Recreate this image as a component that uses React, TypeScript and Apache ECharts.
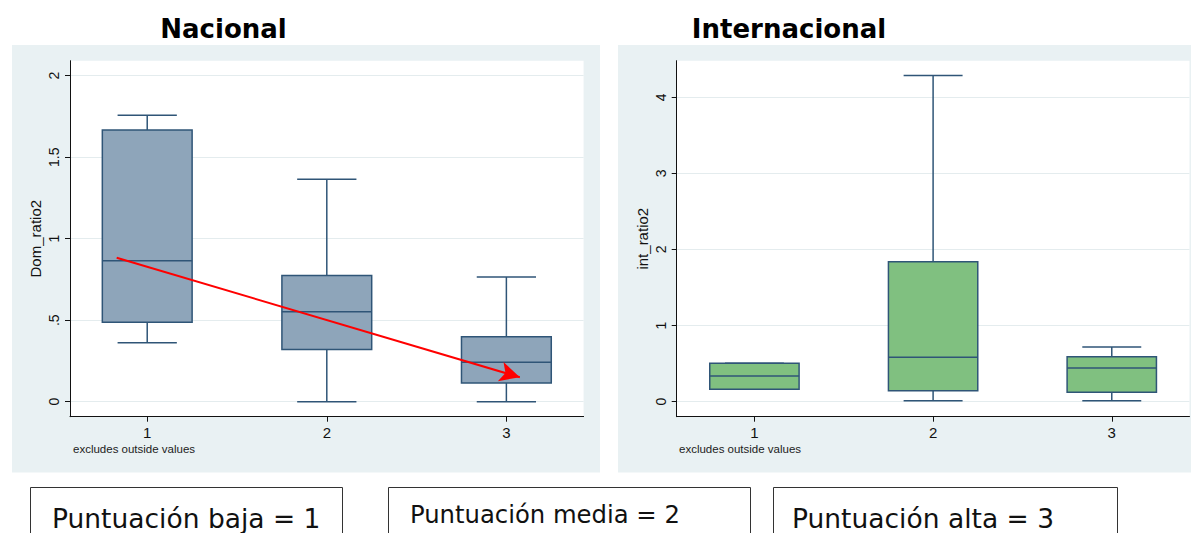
import React, { useEffect, useRef } from 'react';
import * as echarts from 'echarts';

// Box categories (score groups)
const categories = [1, 2, 3];
// Box statistics per category: [lower whisker, Q1, median, Q3, upper whisker]
const nacionalStats = [
  [0.362, 0.487, 0.865, 1.667, 1.757],
  [0, 0.321, 0.552, 0.775, 1.364],
  [0, 0.115, 0.242, 0.399, 0.765],
];
const internacionalStats = [
  [0.163, 0.163, 0.338, 0.505, 0.505],
  [0.013, 0.145, 0.583, 1.84, 4.284],
  [0.013, 0.123, 0.443, 0.591, 0.719],
];
const nacionalTicks = [0, 0.5, 1, 1.5, 2];
const internacionalTicks = [0, 1, 2, 3, 4];
// Red trend arrow (start, end) in data coordinates of the Nacional panel
const trendArrow = [
  [0.83, 0.883],
  [3.075, 0.15],
];
const panelTitles = ['Nacional', 'Internacional'];
const yAxisNames = ['Dom_ratio2', 'int_ratio2'];
const noteText = 'excludes outside values';
const legendTexts = ['Puntuación baja = 1', 'Puntuación media = 2', 'Puntuación alta = 3'];

const LINE = '#2f5577';
const BG = '#e9f1f3';
const GRIDLINE = '#e4ecee';
const AXIS_FONT = '"Liberation Sans", Arial, sans-serif';

function makeRender(fill: string) {
  return (params: any, api: any) => {
    const x = api.value(0);
    const mn = api.value(1);
    const q1 = api.value(2);
    const md = api.value(3);
    const q3 = api.value(4);
    const mx = api.value(5);
    const bw = api.size([0.5, 0])[0];
    const cw = api.size([0.33, 0])[0];
    const pMin = api.coord([x, mn]);
    const pQ1 = api.coord([x, q1]);
    const pMd = api.coord([x, md]);
    const pQ3 = api.coord([x, q3]);
    const pMax = api.coord([x, mx]);
    const cx = pMin[0];
    const ls = { stroke: LINE, lineWidth: 1.5 };
    return {
      type: 'group',
      children: [
        { type: 'line', shape: { x1: cx, y1: pMax[1], x2: cx, y2: pQ3[1] }, style: ls },
        { type: 'line', shape: { x1: cx, y1: pQ1[1], x2: cx, y2: pMin[1] }, style: ls },
        { type: 'line', shape: { x1: cx - cw / 2, y1: pMax[1], x2: cx + cw / 2, y2: pMax[1] }, style: ls },
        { type: 'line', shape: { x1: cx - cw / 2, y1: pMin[1], x2: cx + cw / 2, y2: pMin[1] }, style: ls },
        {
          type: 'rect',
          shape: { x: cx - bw / 2, y: pQ3[1], width: bw, height: pQ1[1] - pQ3[1] },
          style: { fill, stroke: LINE, lineWidth: 1.5 },
        },
        { type: 'line', shape: { x1: cx - bw / 2, y1: pMd[1], x2: cx + bw / 2, y2: pMd[1] }, style: ls },
      ],
    };
  };
}

function yAxisFor(gridIndex: number, min: number, max: number, ticks: number[], name: string) {
  return {
    gridIndex,
    type: 'value',
    min,
    max,
    name,
    nameLocation: 'middle',
    nameGap: 27,
    nameTextStyle: { fontSize: 15, fontFamily: AXIS_FONT, color: '#111' },
    axisLine: { show: true, onZero: false, lineStyle: { color: '#111', width: 1 } },
    axisTick: { show: true, length: 5, customValues: ticks, lineStyle: { color: '#111' } },
    axisLabel: {
      customValues: ticks,
      rotate: 90,
      margin: 9,
      fontSize: 14,
      fontFamily: AXIS_FONT,
      color: '#111',
      formatter: (v: number) => (v === 0 ? '0' : String(v).replace(/^0\./, '.')),
    },
    splitLine: { show: true, lineStyle: { color: GRIDLINE, width: 1 } },
  };
}

function xAxisFor(gridIndex: number, min: number, max: number) {
  return {
    gridIndex,
    type: 'value',
    min,
    max,
    axisLine: { show: true, onZero: false, lineStyle: { color: '#111', width: 1 } },
    axisTick: { show: true, length: 5, customValues: categories, lineStyle: { color: '#111' } },
    axisLabel: {
      customValues: categories,
      margin: 8,
      fontSize: 15,
      fontFamily: AXIS_FONT,
      color: '#111',
      formatter: (v: number) => String(v),
    },
    splitLine: { show: false },
  };
}

export default function App() {
  const ref = useRef<HTMLDivElement>(null);
  useEffect(() => {
    if (!ref.current) return;
    const chart = echarts.init(ref.current, undefined, { renderer: 'svg' });
    const legendBoxes = [
      { x: 30.5, w: 312, text: legendTexts[0], tx: 52, ty: 518, fs: 26.5 },
      { x: 388.5, w: 362, text: legendTexts[1], tx: 410, ty: 514.5, fs: 24.3 },
      { x: 773.5, w: 344, text: legendTexts[2], tx: 792, ty: 518, fs: 26.5 },
    ];
    const option: any = {
      animation: false,
      backgroundColor: '#ffffff',
      grid: [
        { left: 70, right: 1191 - 583.6, top: 60.7, bottom: 533 - 416.7, show: true, backgroundColor: '#ffffff', borderWidth: 0 },
        { left: 676.7, right: 1.5, top: 60.7, bottom: 533 - 416.7, show: true, backgroundColor: '#ffffff', borderWidth: 0 },
      ],
      xAxis: [xAxisFor(0, 0.57, 3.43), xAxisFor(1, 0.565, 3.435)],
      yAxis: [
        yAxisFor(0, -0.092, 2.092, nacionalTicks, yAxisNames[0]),
        yAxisFor(1, -0.197, 4.48, internacionalTicks, yAxisNames[1]),
      ],
      series: [
        {
          type: 'custom',
          xAxisIndex: 0,
          yAxisIndex: 0,
          renderItem: makeRender('#8ea5ba'),
          encode: { x: 0, y: [1, 2, 3, 4, 5] },
          data: categories.map((c, i) => [c, ...nacionalStats[i]]),
          markLine: {
            silent: true,
            symbol: ['none', 'arrow'],
            symbolSize: [15, 20],
            label: { show: false },
            lineStyle: { color: '#ff0000', width: 2, type: 'solid' },
            data: [[{ coord: trendArrow[0] }, { coord: trendArrow[1] }]],
          },
        },
        {
          type: 'custom',
          xAxisIndex: 1,
          yAxisIndex: 1,
          renderItem: makeRender('#80c080'),
          encode: { x: 0, y: [1, 2, 3, 4, 5] },
          data: categories.map((c, i) => [c, ...internacionalStats[i]]),
        },
      ],
      graphic: [
        { type: 'rect', z: -10, shape: { x: 12, y: 45, width: 588, height: 427.5 }, style: { fill: BG } },
        { type: 'rect', z: -10, shape: { x: 618, y: 45, width: 573, height: 427.5 }, style: { fill: BG } },
        {
          type: 'text',
          style: { text: panelTitles[0], x: 223.5, y: 29, textAlign: 'center', textVerticalAlign: 'middle', font: 'bold 26px "DejaVu Sans"', fill: '#000' },
        },
        {
          type: 'text',
          style: { text: panelTitles[1], x: 789, y: 29, textAlign: 'center', textVerticalAlign: 'middle', font: 'bold 26px "DejaVu Sans"', fill: '#000' },
        },
        {
          type: 'text',
          style: { text: noteText, x: 73, y: 449, textAlign: 'left', textVerticalAlign: 'middle', font: `11.5px ${AXIS_FONT}`, fill: '#222' },
        },
        {
          type: 'text',
          style: { text: noteText, x: 679, y: 449, textAlign: 'left', textVerticalAlign: 'middle', font: `11.5px ${AXIS_FONT}`, fill: '#222' },
        },
        ...legendBoxes.flatMap((b) => [
          { type: 'rect', shape: { x: b.x, y: 487.5, width: b.w, height: 60 }, style: { fill: '#fff', stroke: '#333', lineWidth: 1 } },
          {
            type: 'text',
            style: { text: b.text, x: b.tx, y: b.ty, textAlign: 'left', textVerticalAlign: 'middle', font: `${b.fs}px "DejaVu Sans"`, fill: '#111' },
          },
        ]),
      ],
    };
    chart.setOption(option);
    return () => chart.dispose();
  }, []);
  return <div ref={ref} style={{ position: 'fixed', left: 0, top: 0, width: 1191, height: 533 }} />;
}
